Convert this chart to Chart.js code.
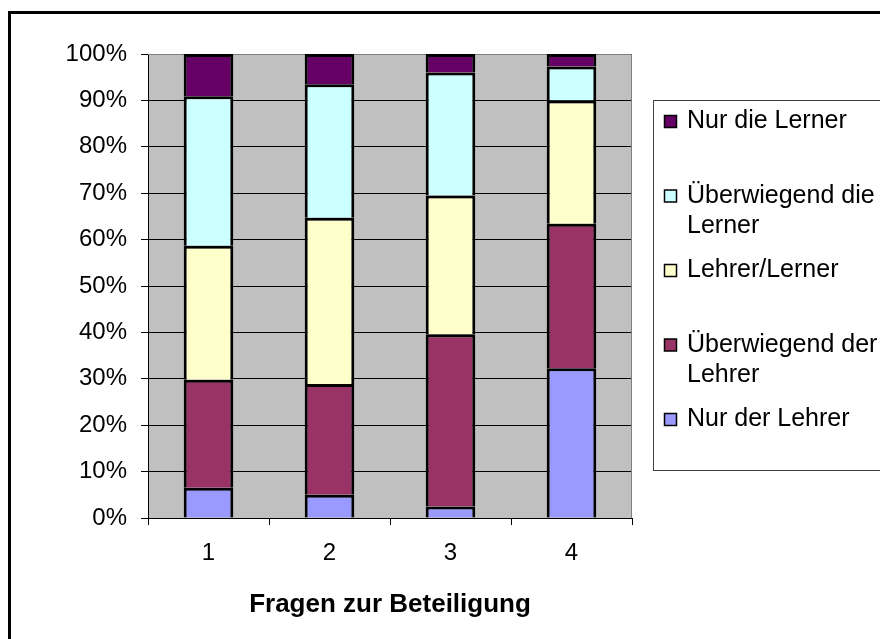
<!DOCTYPE html>
<html>
<head>
<meta charset="utf-8">
<script src="https://cdn.jsdelivr.net/npm/chart.js@4/dist/chart.umd.min.js"></script>
<style>
  body{margin:0;background:#fff;}
  #wrap{width:880px;height:639px;position:relative;}
</style>
</head>
<body>
<div id="wrap"><canvas id="beteiligungChart"></canvas></div>
<script>
const Fragen=["1","2","3","4"];
const yTicks=[0,10,20,30,40,50,60,70,80,90,100];
// Prozentwerte je Frage (von unten nach oben gestapelt)
const nurDerLehrer=[6.5,5.0,2.5,32.3];
const ueberwiegendDerLehrer=[23.3,23.9,37.1,31.1];
const lehrerLerner=[28.9,35.8,29.9,26.6];
const ueberwiegendDieLerner=[32.2,28.8,26.5,7.3];
const nurDieLerner=[9.1,6.5,4.0,2.7];

const FONT="'Liberation Sans', Arial, sans-serif";
Chart.defaults.color="#000";
Chart.defaults.font.family=FONT;
Chart.defaults.font.size=24;

// grauer Hintergrund der Zeichenfläche
const plotBg={
  id:"plotBg",
  beforeDraw(chart){
    const {ctx,chartArea:a}=chart;
    ctx.save();
    ctx.fillStyle="#C0C0C0";
    ctx.fillRect(a.left,a.top,a.right-a.left,a.bottom-a.top);
    ctx.restore();
  },
  beforeDatasetsDraw(chart){
    const {ctx,chartArea:a}=chart;
    ctx.save();
    ctx.strokeStyle="#808080";
    ctx.lineWidth=1;
    ctx.beginPath();
    ctx.moveTo(a.left,a.top+0.5);
    ctx.lineTo(a.right-0.5,a.top+0.5);
    ctx.lineTo(a.right-0.5,a.bottom);
    ctx.stroke();
    ctx.restore();
  }
};

// Legende wie in Excel: Kasten rechts, umgekehrte Reihenfolge, Zeilenumbruch
const excelLegend={
  id:"excelLegend",
  afterDraw(chart){
    const ctx=chart.ctx;
    ctx.save();
    // Rahmen um das ganze Diagramm
    ctx.strokeStyle="#000";
    ctx.lineWidth=3;
    ctx.strokeRect(9.5,12.5,900,700);
    // Legendenkasten
    ctx.lineWidth=1;
    ctx.strokeStyle="#404040";
    ctx.strokeRect(653.5,100.5,300,370);

    ctx.font="25px "+FONT;
    ctx.textBaseline="alphabetic";
    ctx.textAlign="left";
    const sets=chart.data.datasets.slice().reverse();
    const maxW=200;
    sets.forEach((ds,i)=>{
      const base=128+i*74.5;
      ctx.fillStyle=ds.backgroundColor;
      ctx.fillRect(664.5,base-12.5,12,12);
      ctx.strokeStyle="#000";
      ctx.lineWidth=1.5;
      ctx.strokeRect(664.5,base-12.5,12,12);
      // Wörter umbrechen
      let lines=[];
      let cur="";
      for(let w of ds.label.split(" ")){
        let test=cur?cur+" "+w:w;
        if(ctx.measureText(test).width>maxW && cur){
          lines.push(cur);
          cur=w;
        }else cur=test;
      }
      lines.push(cur);
      ctx.fillStyle="#000";
      lines.forEach((l,j)=>ctx.fillText(l,687,base+j*30));
    });
    ctx.restore();
  }
};

const ctxChart=document.getElementById("beteiligungChart");

new Chart(ctxChart,{
  type:"bar",
  data:{
    labels:Fragen,
    datasets:[
      {label:"Nur der Lehrer",data:nurDerLehrer,backgroundColor:"#9999FF"},
      {label:"Überwiegend der Lehrer",data:ueberwiegendDerLehrer,backgroundColor:"#993366"},
      {label:"Lehrer/Lerner",data:lehrerLerner,backgroundColor:"#FFFFCC"},
      {label:"Überwiegend die Lerner",data:ueberwiegendDieLerner,backgroundColor:"#CCFFFF"},
      {label:"Nur die Lerner",data:nurDieLerner,backgroundColor:"#660066"}
    ]
  },
  options:{
    responsive:true,
    maintainAspectRatio:false,
    animation:false,
    layout:{padding:{left:0,right:248,top:54,bottom:0}},
    datasets:{
      bar:{
        borderColor:"#000",
        borderWidth:3,
        borderSkipped:"start",
        barPercentage:0.41,
        categoryPercentage:1
      }
    },
    plugins:{
      legend:{display:false},
      tooltip:{enabled:false}
    },
    scales:{
      x:{
        stacked:true,
        grid:{drawOnChartArea:false,drawTicks:true,tickLength:7,color:"#000",offset:true},
        border:{color:"#000",width:1},
        ticks:{padding:14,font:{size:24}},
        title:{display:true,text:"Fragen zur Beteiligung",font:{size:26,weight:"bold"},padding:{top:0,bottom:19}},
        afterFit(scale){scale.height=121;}
      },
      y:{
        stacked:true,
        min:0,
        max:100,
        afterBuildTicks(scale){scale.ticks=yTicks.map(v=>({value:v}));},
        grid:{color:"#000",tickLength:7,drawTicks:true},
        border:{color:"#000",width:1},
        ticks:{padding:14,font:{size:24},callback:v=>v+"%"},
        afterFit(scale){scale.width=148;}
      }
    }
  },
  plugins:[plotBg,excelLegend]
});
</script>
</body>
</html>
